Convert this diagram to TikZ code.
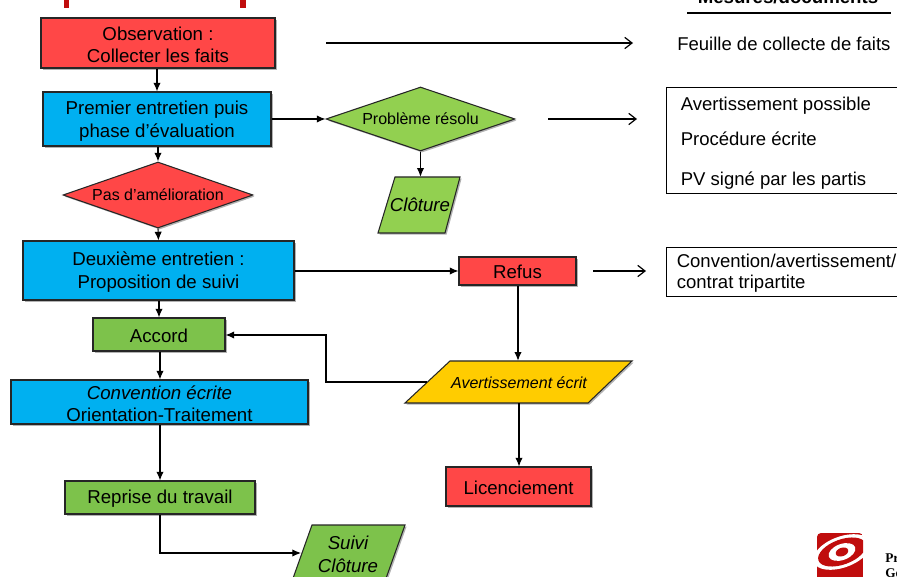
\documentclass[tikz,border=0pt]{standalone}
\usepackage{fontspec}
\setmainfont{Liberation Sans}
\newfontfamily\serifbd{Liberation Serif}
\usetikzlibrary{shapes.geometric,shadows,arrows.meta,positioning,calc}
\definecolor{cred}{HTML}{FF4747}
\definecolor{cblue}{HTML}{00B0F0}
\definecolor{cgreen}{HTML}{92D050}
\definecolor{cgreenb}{HTML}{7DC24B}
\definecolor{cyel}{HTML}{FFCC00}
\definecolor{cbar}{HTML}{C00D0D}
\tikzset{
  x=0.75pt,y=-0.75pt,
  shade/.style={drop shadow={shadow xshift=1.2pt,shadow yshift=-1.2pt,fill=black,opacity=.3}},
  fbox/.style={draw=black!85,line width=0.8pt,inner sep=0pt,align=center,font=\fontsize{14}{17}\selectfont,shade},
  rectbox/.style={fbox,rectangle},
  dia/.style={fbox,diamond,aspect=2.9,font=\fontsize{12}{14}\selectfont},
  parash/.style={draw=black!85,line width=0.8pt,shade},
  paratxt/.style={inner sep=0pt,align=center,font=\fontsize{14}{17}\selectfont\itshape},
  conn/.style={line width=0.8pt,-{Latex[length=6.5pt,width=5.5pt]}},
  free/.style={line width=0.9pt,-{Straight Barb[length=5.5pt,width=8.5pt]}},
  doc/.style={font=\fontsize{13.9}{16}\selectfont,anchor=base west,inner sep=0pt},
  docbox/.style={draw=black,line width=0.7pt,rectangle},
  logotxt/.style={font=\serifbd\bfseries\fontsize{10}{11}\selectfont,anchor=base west,inner sep=0pt},
}
\newcommand{\bx}[7]{% style,name,x0,y0,x1,y1,text
  \node[#1,minimum width=#5*0.75pt-#3*0.75pt,minimum height=#6*0.75pt-#4*0.75pt] (#2) at ({(#3+#5)/2},{(#4+#6)/2}) {#7};}
\newcommand{\lift}{\rule{0pt}{13pt}}
\newcommand{\liftb}{\rule{0pt}{12pt}}
% name, fill, top-left x, top-right x, bottom-left x, bottom-right x, top y, bottom y, text
\newcommand{\para}[9]{%
  \path[parash,fill=#2] (#3,#7) -- (#4,#7) -- (#6,#8) -- (#5,#8) -- cycle;
  \node[paratxt,minimum height=#8*0.75pt-#7*0.75pt] (#1) at ({(#3+#6)/2},{(#7+#8)/2}) {#9};}
\begin{document}
\begin{tikzpicture}
\useasboundingbox (0,0) rectangle (897,577);
\clip (0,0) rectangle (897,577);
% top bars and header
\fill[cbar] (63.5,-2) rectangle (69,8);
\fill[cbar] (240,-2) rectangle (245.5,8);
\node[font=\bfseries\fontsize{14}{15}\selectfont,anchor=base,inner sep=0pt] (head) at (788,3.5) {Mesures/documents};
\coordinate (hl) at (687,13);
\coordinate (hr) at (891,13);
\draw[line width=1pt] (hl) -- (hr);
% flow boxes
\bx{rectbox,fill=cred}{obs}{41}{18}{275}{68}{\lift Observation :\\Collecter les faits}
\bx{rectbox,fill=cblue}{prem}{43}{92}{271}{146}{\lift Premier entretien puis\\phase d’évaluation}
\bx{dia,fill=cred}{pas}{63}{162}{253}{228}{Pas d’amélioration}
\bx{dia,fill=cgreen}{res}{326}{87}{515}{151}{Problème résolu}
\bx{rectbox,fill=cblue}{deux}{23}{241}{294}{300}{\lift Deuxième entretien :\\Proposition de suivi}
\bx{rectbox,fill=cred}{refus}{459}{257}{576}{285}{\liftb Refus}
\bx{rectbox,fill=cgreenb}{acc}{93}{318}{225}{351}{\liftb Accord}
\bx{rectbox,fill=cblue}{conv}{11}{380}{308}{424}{\lift\textit{Convention écrite}\\Orientation-Traitement}
\bx{rectbox,fill=cgreenb}{rep}{65}{481}{255}{514}{\liftb Reprise du travail}
\bx{rectbox,fill=cred}{lic}{446}{467}{591}{506}{\liftb Licenciement}
\para{clo}{cgreen}{395}{460}{378}{445}{177}{233}{Clôture}
\para{av}{cyel}{450}{632}{405}{588}{361}{403}{\fontsize{12}{14}\selectfont\rule{0pt}{10.5pt}Avertissement écrit}
\para{sui}{cgreenb}{312}{405}{291}{384}{525}{584}{Suivi\\Clôture}
% connectors
\coordinate (suiw) at (301,553);
\coordinate (avw) at (427,382);
\draw[conn] (157,0 |- obs.south) -- (157,0 |- prem.north);
\draw[conn] (158,0 |- prem.south) -- (pas.north);
\draw[conn] (prem.east |- res.west) -- (res.west);
\draw[conn] (res.south) -- (res.south |- clo.north);
\draw[conn] (pas.south) -- (158.5,0 |- deux.north);
\draw[conn] (deux.east |- refus.west) -- (refus.west);
\draw[conn] (518,0 |- refus.south) -- (518,0 |- av.north);
\draw[conn] (519,0 |- av.south) -- (519,0 |- lic.north);
\draw[conn] (159,0 |- deux.south) -- (159,0 |- acc.north);
\draw[conn] (160,0 |- acc.south) -- (160,0 |- conv.north);
\draw[conn] (160,0 |- conv.south) -- (160,0 |- rep.north);
\draw[conn] (160,0 |- rep.south) |- (suiw);
\draw[conn] (avw) -| (326,335) -- (acc.east |- 0,335);
% free arrows
\coordinate (a1s) at (326,43); \coordinate (a1e) at (633,43);
\coordinate (a2s) at (548,119); \coordinate (a2e) at (637,119);
\coordinate (a3s) at (593,271); \coordinate (a3e) at (646,271);
\draw[free] (a1s) -- (a1e);
\draw[free] (a2s) -- (a2e);
\draw[free] (a3s) -- (a3e);
% right column
\node[doc] (d1) at (677,51) {Feuille de collecte de faits};
\draw[docbox] (666.5,87) rectangle (900,193.5);
\node[doc] (d2) at (680.5,111) {Avertissement possible};
\node[doc] (d3) at (680.5,146) {Procédure écrite};
\node[doc] (d4) at (680.5,186) {PV signé par les partis};
\draw[docbox] (666.5,247) rectangle (900,296);
\node[doc] (d5) at (676.5,267.5) {Convention/avertissement/};
\node[doc] (d6) at (676.5,288.5) {contrat tripartite};
% logo
\begin{scope}
\clip[rounded corners=3pt] (817,533) rectangle (863,590);
\fill[cbar] (817,533) rectangle (863,590);
\fill[white,rotate around={20:(842,552)}] (842,552) ellipse (30 and 15.5);
\fill[cbar,rotate around={20:(842,552)}] (842,552) ellipse (25 and 12.5);
\fill[white,rotate around={20:(842,552)}] (842,552) ellipse (14 and 8);
\fill[cbar,rotate around={20:(842,552)}] (842,552) ellipse (6.5 and 4.2);
\end{scope}
\node[logotxt] (pr) at (885,562) {Pr};
\node[logotxt] (go) at (885,577) {Go};
\end{tikzpicture}
\end{document}
